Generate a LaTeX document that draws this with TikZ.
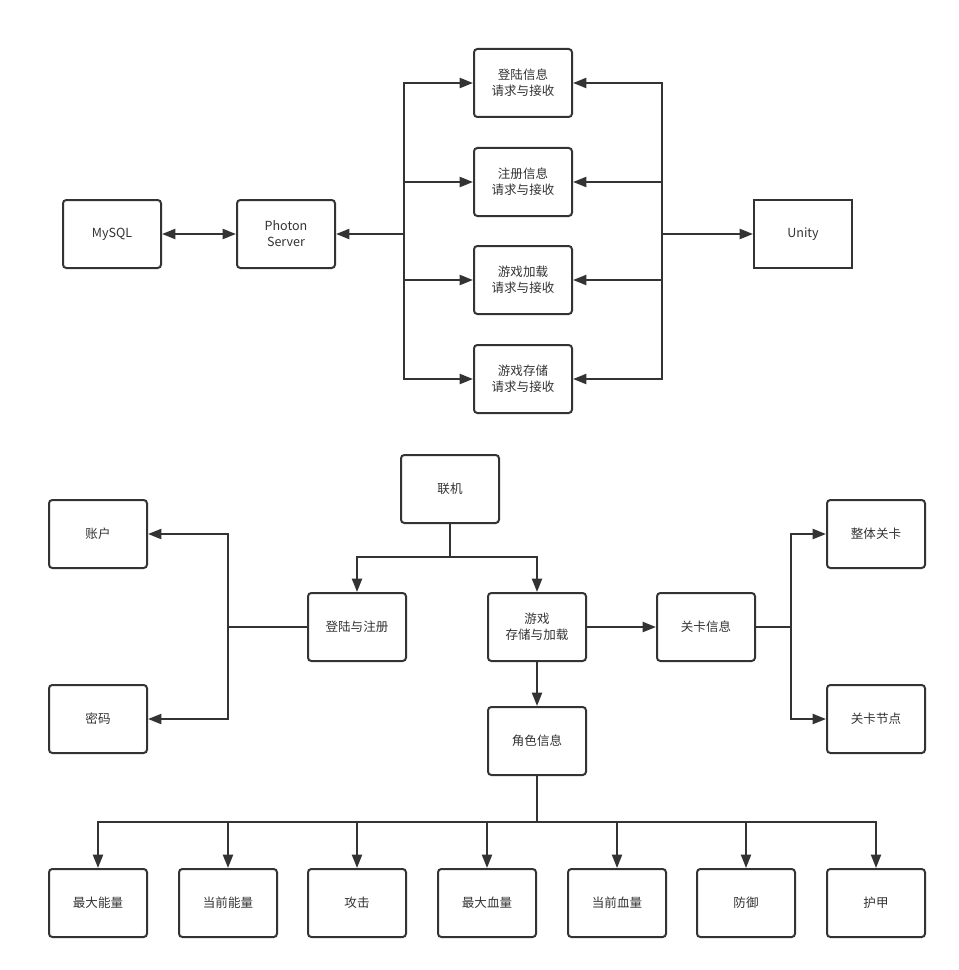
\documentclass[tikz,border=0pt]{standalone}
\usepackage{fontspec}
\setmainfont{Noto Sans CJK SC}
\usepackage{tikz}
\usetikzlibrary{arrows.meta, positioning, calc}
\definecolor{ink}{HTML}{333333}
\tikzset{
  box/.style={rectangle, draw=ink, line width=1.5pt, rounded corners=2.5pt,
              minimum width=73.5pt, minimum height=51pt, inner sep=1pt,
              align=center, text=ink, font=\fontsize{9.4}{12}\selectfont},
  sqbox/.style={box, rounded corners=0pt},
  link/.style={draw=ink, line width=1.5pt},
  arr/.style={link, -{Triangle[length=10pt, width=7.5pt]}},
  biarr/.style={link, {Triangle[length=10pt, width=7.5pt]}-{Triangle[length=10pt, width=7.5pt]}},
}

\begin{document}
\begin{tikzpicture}[x=0.75pt, y=-0.75pt]

  \useasboundingbox (0,0) rectangle (958,970);

  % server side
  \node[box] (mysql) at (112,234) {MySQL};
  \node[box] (photon) at (286,234) {Photon\\Server};
  \node[sqbox] (unity) at (803,234) {Unity};

  \node[box] (dl) at (523,83)  {登陆信息\\请求与接收};
  \node[box] (zc) at (523,182) {注册信息\\请求与接收};
  \node[box] (jz) at (523,280) {游戏加载\\请求与接收};
  \node[box] (cc) at (523,379) {游戏存储\\请求与接收};

  \coordinate (lbus) at (404,234);
  \coordinate (rbus) at (662,234);

  \draw[biarr] (mysql) -- (photon);
  \draw[arr] (lbus) -- (photon);
  \draw[arr] (rbus) -- (unity);
  \foreach \n in {dl, zc, jz, cc} {
    \draw[arr] (lbus) |- (\n);
    \draw[arr] (rbus) |- (\n);
  }

  % game data
  \node[box] (lj)   at (450,489) {联机};
  \node[box] (dlzc) at (357,627) {登陆与注册};
  \node[box] (yx)   at (537,627) {游戏\\存储与加载};
  \node[box] (gk)   at (706,627) {关卡信息};
  \node[box] (zh)   at (98,534)  {账户};
  \node[box] (mm)   at (98,719)  {密码};
  \node[box] (ztgk) at (876,534) {整体关卡};
  \node[box] (gkjd) at (876,719) {关卡节点};
  \node[box] (js)   at (537,741) {角色信息};

  \coordinate (j1) at (450,557);
  \draw[link] (lj) -- (j1);
  \draw[arr] (j1) -| (dlzc);
  \draw[arr] (j1) -| (yx);

  \coordinate (lb) at (228,627);
  \draw[link] (dlzc) -- (lb);
  \draw[arr] (lb) |- (zh);
  \draw[arr] (lb) |- (mm);

  \draw[arr] (yx) -- (gk);
  \coordinate (rb) at (791,627);
  \draw[link] (gk) -- (rb);
  \draw[arr] (rb) |- (ztgk);
  \draw[arr] (rb) |- (gkjd);

  \draw[arr] (yx) -- (js);

  % attributes
  \coordinate (j2) at (537,822);
  \draw[link] (js) -- (j2);
  \foreach \n/\x/\t in {zdnl/98/最大能量, dqnl/228/当前能量, gj/357/攻击,
                        zdxl/487/最大血量, dqxl/617/当前血量, fy/746/防御, hj/876/护甲} {
    \node[box] (\n) at (\x,903) {\t};
    \draw[arr] (j2) -| (\n);
  }

\end{tikzpicture}
\end{document}
